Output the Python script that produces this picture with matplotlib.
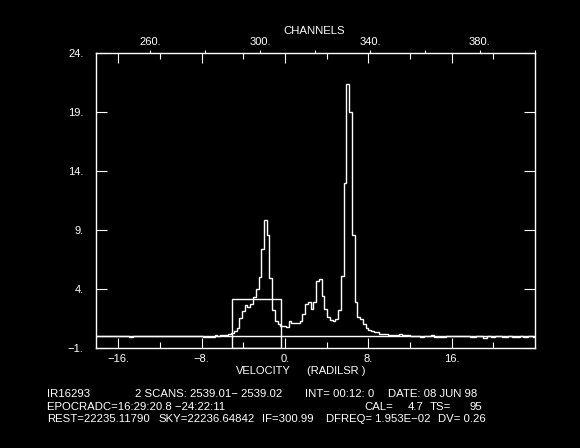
import matplotlib
matplotlib.use("Agg")
import matplotlib.pyplot as plt
from matplotlib.patches import Rectangle
from matplotlib.ticker import FixedLocator, FuncFormatter

# ---- data ----
# left edge of each step (km/s) and its level (K)
step_starts = [
    -18.14, -17.85, -17.50, -15.80, -15.40, -15.00, -14.60, -14.10, -12.30, -11.00,
    -10.50, -9.80, -9.30, -7.84, -6.72, -6.50, -6.24, -5.70, -5.44, -5.18,
    -4.91, -4.65, -4.39, -4.12, -3.86, -3.60, -3.33, -3.07, -2.80, -2.54,
    -2.28, -2.01, -1.75, -1.49, -1.22, -0.96, -0.69, -0.43, -0.17, 0.10,
    0.36, 0.62, 0.89, 1.15, 1.41, 1.68, 1.94, 2.21, 2.47, 2.73,
    3.00, 3.26, 3.52, 3.79, 4.05, 4.32, 4.58, 4.84, 5.11, 5.37,
    5.63, 5.90, 6.16, 6.42, 6.69, 6.95, 7.22, 7.48, 7.74, 8.01,
    8.27, 8.53, 9.06, 9.85, 10.90, 11.20, 12.00, 12.96, 13.34, 14.01,
    14.33, 14.78, 15.42, 15.83, 17.75, 18.33, 19.03, 19.36, 19.77, 20.15,
    20.80, 21.43, 21.76, 22.55, 22.87, 23.35, 23.83,
]
step_end = 24.0
levels = [
    0.00, 0.05, 0.00, 0.05, 0.00, -0.08, 0.00, 0.05, 0.02, 0.05,
    0.00, 0.05, -0.02, -0.03, 0.08, 0.02, 0.08, 0.12, 0.20, 0.30,
    0.45, 0.73, 1.53, 2.10, 2.66, 2.50, 2.75, 3.30, 4.00, 5.06,
    7.40, 9.85, 8.60, 4.92, 2.23, 1.30, 1.07, 0.87, 0.85, 0.82,
    1.27, 1.16, 1.10, 1.10, 1.27, 1.89, 2.71, 2.88, 2.34, 2.91,
    4.69, 4.84, 3.42, 2.34, 1.66, 1.38, 1.27, 1.44, 2.23, 5.10,
    13.0, 21.4, 19.0, 8.60, 2.88, 1.61, 1.44, 1.02, 0.73, 0.53,
    0.45, 0.34, 0.20, 0.10, 0.17, 0.10, 0.03, -0.08, 0.03, 0.10,
    -0.05, -0.06, 0.03, 0.00, -0.03, 0.03, -0.17, 0.03, -0.06, 0.03,
    -0.06, 0.03, -0.06, 0.03, -0.06, 0.03, -0.06,
]

vel_major = [-16, -8, 0, 8, 16]
vel_minor = [-12, -4, 4, 12, 20]
y_ticks = [-1, 4, 9, 14, 19, 24]
chan_ticks = [260, 280, 300, 320, 340, 360, 380, 400]
chan_labels = [260, 300, 340, 380]

box_x = (-5.09, -0.38)
box_top = 3.16

xlim = (-18.14, 24.0)
ylim = (-1, 24)

chan0 = 309.1     # channel at v = 0
dv = 0.2637       # km/s per channel

info_chunks = [
    (47, 394, "IR16293"),
    (135, 394, "2 SCANS: 2539.01\u2212 2539.02"),
    (305, 394, "INT= 00:12: 0"),
    (388, 394, "DATE: 08 JUN 98"),
    (47, 407, "EPOCRADC=16:29:20.8 \u221224:22:11"),
    (364, 407, "CAL="),
    (408, 407, "4.7"),
    (430, 407, "TS="),
    (469, 407, "95"),
    (47, 419, "REST=22235.11790"),
    (158, 419, "SKY=22236.64842"),
    (262, 419, "IF=300.99"),
    (326, 419, "DFREQ= 1.953E\u221202"),
    (438, 419, "DV= 0.26"),
]

# ---- figure ----
W, H = 580, 448
FONT = "Liberation Sans"
fig = plt.figure(figsize=(W / 100, H / 100), dpi=100, facecolor="black")
ax = fig.add_axes([96 / W, 1 - 348 / H, (535 - 96) / W, (348 - 53.5) / H])
ax.set_facecolor("black")

edges = step_starts + [step_end]
ax.stairs(levels, edges, color="white", lw=1.0)
ax.axhline(0, color="white", lw=1.0)
ax.add_patch(Rectangle((box_x[0], ylim[0]), box_x[1] - box_x[0], box_top - ylim[0],
                       fill=False, edgecolor="white", lw=1.0))

ax.set_xlim(*xlim)
ax.set_ylim(*ylim)
for s in ax.spines.values():
    s.set_color("white")
    s.set_linewidth(1.0)

ax.xaxis.set_major_locator(FixedLocator(vel_major))
ax.xaxis.set_minor_locator(FixedLocator(vel_minor))
ax.xaxis.set_major_formatter(FuncFormatter(lambda v, p: f"{v:.0f}.".replace("-", "\u2212")))
ax.yaxis.set_major_locator(FixedLocator(y_ticks))
ax.yaxis.set_major_formatter(FuncFormatter(lambda v, p: f"{v:.0f}.".replace("-", "\u2212")))

ax.tick_params(axis="x", which="major", direction="in", length=7.2, width=0.8,
               color="white", top=True, bottom=True, labelcolor="white",
               labelsize=8, pad=4)
ax.tick_params(axis="x", which="minor", direction="in", length=4.3, width=0.8,
               color="white", top=True, bottom=True)
ax.tick_params(axis="y", which="major", direction="in", length=8, width=0.8,
               color="white", left=True, right=True, labelcolor="white",
               labelsize=8, pad=9)
for lab in ax.get_xticklabels() + ax.get_yticklabels():
    lab.set_fontfamily(FONT)

sec = ax.secondary_xaxis("top", functions=(lambda v: chan0 + v / dv,
                                           lambda c: (c - chan0) * dv))
sec.xaxis.set_major_locator(FixedLocator(chan_ticks))
sec.xaxis.set_major_formatter(FuncFormatter(
    lambda c, p: f"{c:.0f}." if round(c) in chan_labels else ""))
sec.tick_params(direction="out", length=2, width=0.8, color="white",
                labelcolor="white", labelsize=8, pad=3)
sec.spines["top"].set_visible(False)
for lab in sec.get_xticklabels():
    lab.set_fontfamily(FONT)

fig.text(314 / W, 1 - 31 / H, "CHANNELS", color="white", fontsize=8.2,
         family=FONT, ha="center", va="center")
fig.text(236 / W, 1 - 371 / H, "VELOCITY", color="white", fontsize=8,
         family=FONT, ha="left", va="center")
fig.text(307 / W, 1 - 371 / H, "(RADILSR )", color="white", fontsize=8,
         family=FONT, ha="left", va="center")

for x, y, t in info_chunks:
    fig.text(x / W, 1 - y / H, t, color="white", fontsize=8.2, family=FONT,
             ha="left", va="center")

fig.savefig("out.png", dpi=100, facecolor="black")
